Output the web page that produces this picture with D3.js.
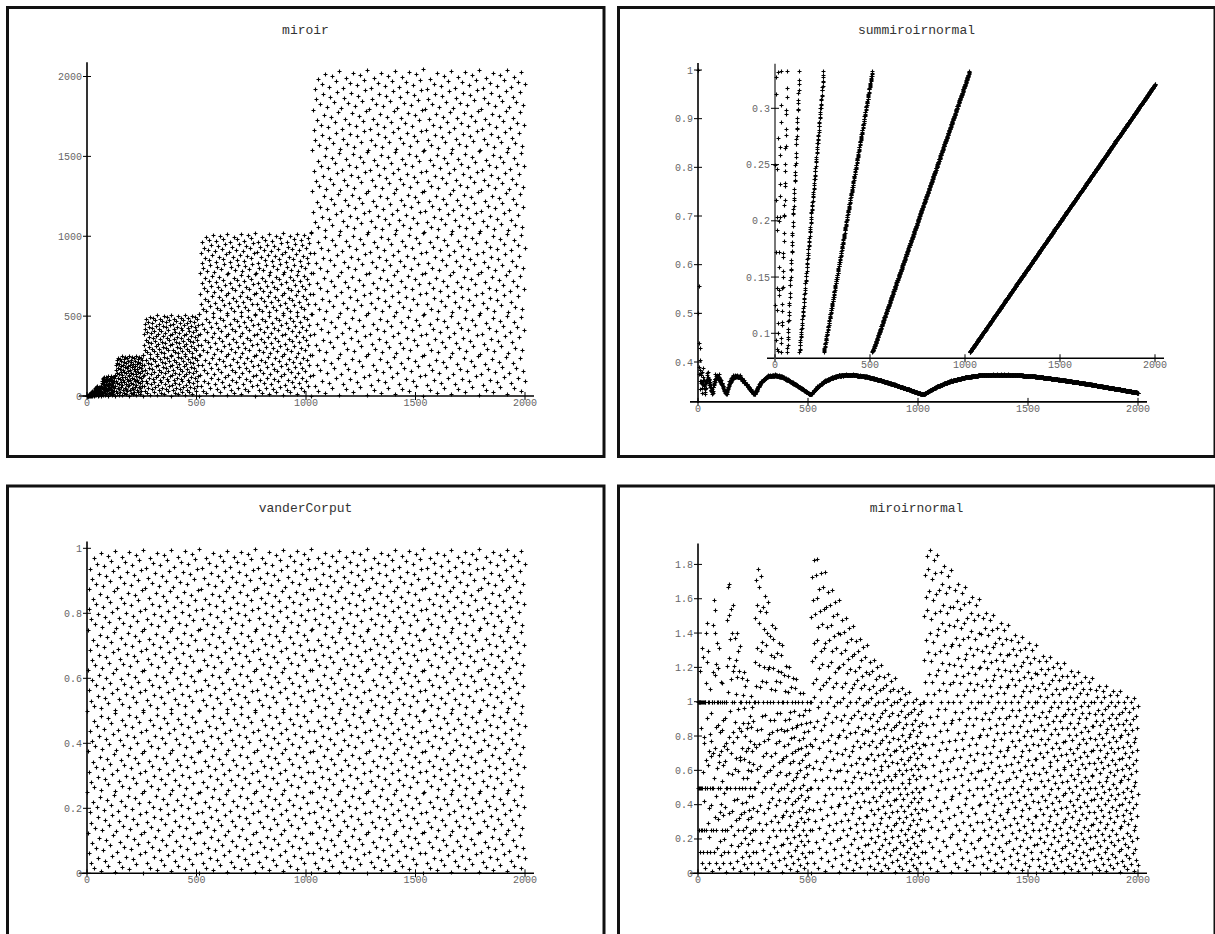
<!DOCTYPE html>
<html>
<head>
<meta charset="utf-8">
<style>
  body { margin: 0; background: #fff; }
  text { font-family: "Liberation Mono", "DejaVu Sans Mono", monospace; }
</style>
</head>
<body>
<svg width="1215" height="934"></svg>
<script src="https://d3js.org/d3.v7.min.js"></script>
<script>

  var svg = d3.select("svg");

  // index n = 1..2000 and its binary mirror (bits of n read backwards)
  var N = 2000;
  var indices = d3.range(1, N + 1);
  function bitLength(v) { return Math.floor(Math.log2(v)) + 1; }
  function mirror(v) { var r = 0; while (v > 0) { r = r * 2 + (v & 1); v = v >> 1; } return r; }

  var miroir = indices.map(mirror);
  var vanderCorput = indices.map(function (v, i) { return miroir[i] / Math.pow(2, bitLength(v)); });
  var miroirnormal = indices.map(function (v, i) { return miroir[i] / v; });
  var cumMiroir = Array.from(d3.cumsum(miroir));
  var summiroirnormal = indices.map(function (v, i) { return cumMiroir[i] / (v * v); });
  var summiroirBlock = indices.map(function (v, i) { return cumMiroir[i] / Math.pow(4, bitLength(v)); });

  // tick values
  var xTicks = [0, 500, 1000, 1500, 2000];
  var miroirTicks = [0, 500, 1000, 1500, 2000];
  var summiroirTicks = [0.4, 0.5, 0.6, 0.7, 0.8, 0.9, 1];
  var insetTicks = [0.1, 0.15, 0.2, 0.25, 0.3];
  var vdcTicks = [0, 0.2, 0.4, 0.6, 0.8, 1];
  var miroirnormalTicks = [0, 0.2, 0.4, 0.6, 0.8, 1, 1.2, 1.4, 1.6, 1.8];

  var titles = ["miroir", "summiroirnormal", "vanderCorput", "miroirnormal"];

  // panel frames (the right column and bottom row run off the page edge)
  var colX = [7.5, 618.5], colW = [596.5, 596.5];
  var rowY = [7.5, 486], rowH = [449, 452];
  [[0, 0], [1, 0], [0, 1], [1, 1]].forEach(function (p, i) {
    svg.append("rect")
      .attr("x", colX[p[0]]).attr("y", rowY[p[1]])
      .attr("width", colW[p[0]]).attr("height", rowH[p[1]])
      .attr("fill", "none").attr("stroke", "#111").attr("stroke-width", 3);
    svg.append("text")
      .attr("x", colX[p[0]] + 298).attr("y", rowY[p[1]] + 26)
      .attr("text-anchor", "middle")
      .attr("font-size", 13).attr("fill", "#333")
      .text(titles[i]);
  });

  function plot(opt) {
    var g = svg.append("g");
    var x = d3.scaleLinear().domain([0, 2000]).range(opt.xr);
    var y = d3.scaleLinear().domain(opt.yd).range(opt.yr);
    var axisY = y(opt.base);
    var color = opt.axisColor || "#000";

    // axis lines
    g.append("line")
      .attr("x1", x(0) - 8).attr("x2", x(2000) + 9)
      .attr("y1", axisY).attr("y2", axisY)
      .attr("stroke", "#000").attr("stroke-width", 1.6);
    g.append("line")
      .attr("x1", x(0)).attr("x2", x(0))
      .attr("y1", axisY + 1).attr("y2", y(d3.max(opt.values)) - 7)
      .attr("stroke", color).attr("stroke-width", opt.yAxisWidth || 1.6);

    // ticks
    g.selectAll(".xt").data(xTicks).join("line")
      .attr("x1", x).attr("x2", x)
      .attr("y1", axisY - 4).attr("y2", axisY + 4)
      .attr("stroke", "#000");
    g.selectAll(".xl").data(xTicks).join("text")
      .attr("x", x).attr("y", axisY + 10)
      .attr("text-anchor", "middle")
      .attr("font-size", 10).attr("fill", "#666")
      .text(String);
    g.selectAll(".yt").data(opt.yTicks).join("line")
      .attr("x1", x(0) - 4).attr("x2", x(0) + 4)
      .attr("y1", y).attr("y2", y)
      .attr("stroke", "#000");
    g.selectAll(".yl").data(opt.yTicks).join("text")
      .attr("x", x(0) - 5).attr("y", function (d) { return y(d) + 3.5; })
      .attr("text-anchor", "end")
      .attr("font-size", 10).attr("fill", "#666")
      .text(String);

    // points
    g.selectAll(".pt").data(opt.values).join("path")
      .attr("transform", function (d, i) {
        return "translate(" + (Math.round(x(indices[i])) + 0.5) + "," + (Math.round(y(d)) + 0.5) + ")";
      })
      .attr("d", "M-2,0h4M0,-2v4")
      .attr("stroke", "#000").attr("stroke-width", 1.1)
      .attr("fill", "none");
  }

  plot({ values: miroir, xr: [87, 525], yd: [0, 2000], yr: [396, 76.5], base: 0, yTicks: miroirTicks });
  plot({ values: summiroirnormal, xr: [698, 1138], yd: [0.4, 1], yr: [362, 70], base: 0.318, yTicks: summiroirTicks });
  plot({ values: summiroirBlock, xr: [775, 1155], yd: [0.1, 0.3], yr: [333.3, 108.3], base: 0.0778, yTicks: insetTicks, axisColor: "#777", yAxisWidth: 2 });
  plot({ values: vanderCorput, xr: [87, 525], yd: [0, 1], yr: [873.3, 548.3], base: 0, yTicks: vdcTicks });
  plot({ values: miroirnormal, xr: [698, 1138], yd: [0, 1], yr: [873.3, 701.7], base: 0, yTicks: miroirnormalTicks });

</script>
</body>
</html>
